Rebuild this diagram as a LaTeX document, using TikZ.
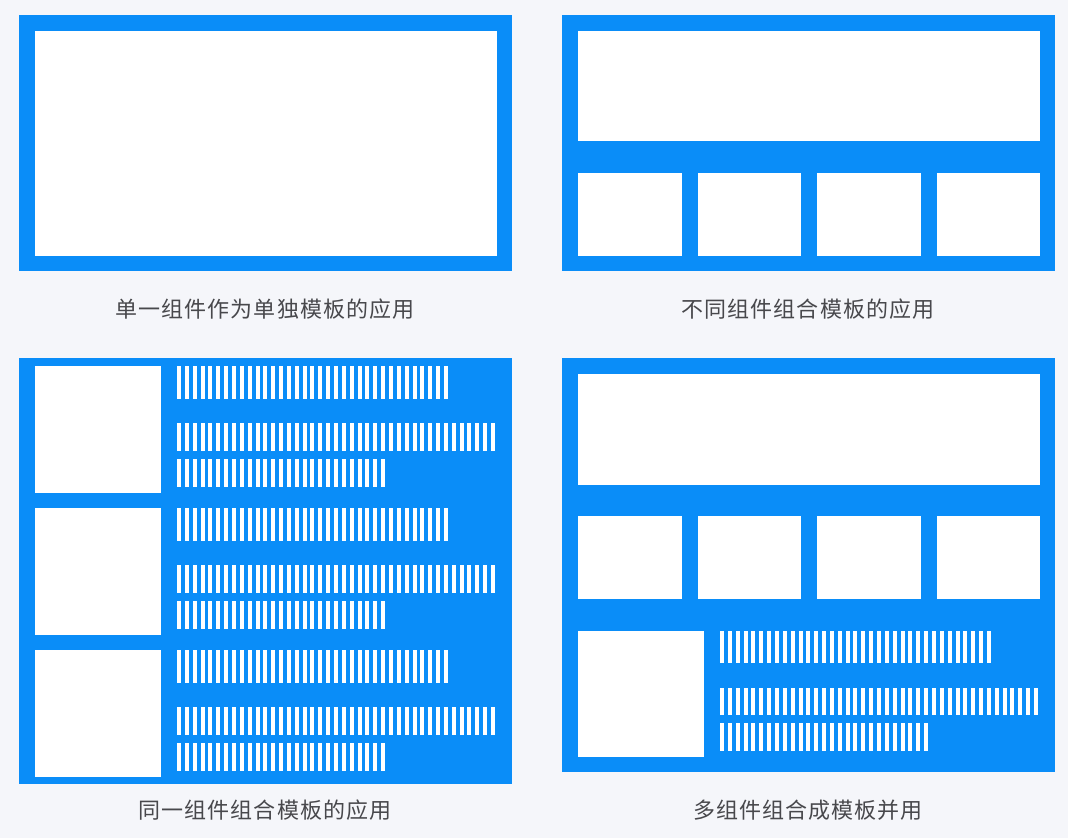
\documentclass[tikz,border=0pt]{standalone}
\usepackage{fontspec}
\newfontfamily\cjk[LetterSpace=5]{Noto Sans CJK SC}
\definecolor{bluefill}{RGB}{10,141,248}
\definecolor{bgcol}{RGB}{245,246,250}
\definecolor{capcol}{RGB}{72,72,76}
\newcommand\stripesrow[4]{% x0, y0, y1, count
  \foreach \k in {1,...,#4}{\fill[white] ({#1+(\k-1)*7.85},{#2}) rectangle ({#1+(\k-1)*7.85+4},{#3});}}
\begin{document}
\begin{tikzpicture}[x=1pt,y=-1pt,
  panel/.style={fill=bluefill},
  box/.style={fill=white},
  caption/.style={font=\cjk\fontsize{22}{26}\selectfont, text=capcol, inner sep=0pt}]
\fill[bgcol] (0,0) rectangle (1068,838);
\useasboundingbox (0,0) rectangle (1068,838);
% Panel 1
\fill[panel] (19,15) rectangle (512,271);
\fill[box] (35,31) rectangle (497,256);
\node[caption] (cap1) at (265,309) {单一组件作为单独模板的应用};
% Panel 2
\fill[panel] (562,15) rectangle (1055,271);
\fill[box] (578,31) rectangle (1040,141);
\foreach \x in {578,697.5,817,936.5}{\fill[box] (\x,173) rectangle ++(103.5,83);}
\node[caption] (cap2) at (808,309) {不同组件组合模板的应用};
% Panel 3
\fill[panel] (19,358) rectangle (512,784);
\foreach \t in {366,508,650}{
  \fill[box] (35,\t) rectangle (161,\t+127);
  \stripesrow{177}{\t}{\t+33}{35}
  \stripesrow{177}{\t+57}{\t+85}{41}
  \stripesrow{177}{\t+93}{\t+121}{27}
}
\node[caption] (cap3) at (265,810) {同一组件组合模板的应用};
% Panel 4
\fill[panel] (562,358) rectangle (1055,772);
\fill[box] (578,374) rectangle (1040,485);
\foreach \x in {578,697.5,817,936.5}{\fill[box] (\x,516) rectangle ++(103.5,83);}
\fill[box] (578,631) rectangle (704,757);
\stripesrow{720}{631}{663}{35}
\stripesrow{720}{688}{715}{41}
\stripesrow{720}{723}{751}{27}
\node[caption] (cap4) at (808,810) {多组件组合成模板并用};
\end{tikzpicture}
\end{document}
